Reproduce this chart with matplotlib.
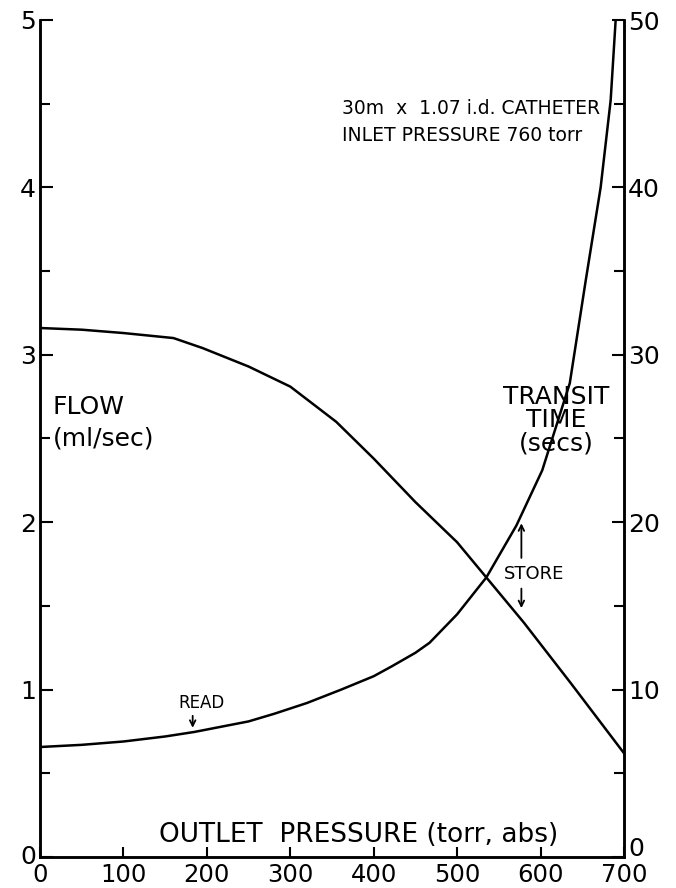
import matplotlib
matplotlib.use("Agg")
import matplotlib.pyplot as plt
from matplotlib.ticker import MultipleLocator
import matplotlib.transforms as mtransforms

plt.rcParams['font.family'] = ['DejaVu Sans']

# ---- data ----
pressure_flow = [0, 50, 100, 160, 195, 250, 300, 355, 400, 450, 500, 535, 580, 636, 700]
flow = [3.16, 3.15, 3.13, 3.10, 3.04, 2.93, 2.81, 2.60, 2.38, 2.12, 1.88, 1.67, 1.40, 1.04, 0.62]

pressure_transit = [0, 50, 100, 150, 185, 250, 281, 320, 361, 400, 422, 450, 467, 500,
                    535, 571, 602, 635, 654, 672, 684, 690]
transit = [6.57, 6.7, 6.9, 7.2, 7.47, 8.1, 8.56, 9.2, 10.0, 10.8, 11.4, 12.2, 12.8, 14.5,
           16.7, 19.8, 23.1, 28.3, 34.4, 40.0, 45.2, 50.0]

x_ticks = [0, 100, 200, 300, 400, 500, 600, 700]
flow_ticks = [0, 1, 2, 3, 4, 5]
transit_ticks = [0, 10, 20, 30, 40, 50]

fig = plt.figure(figsize=(6.76, 8.88), dpi=100)
ax = fig.add_axes([40/676, 1-857/888, 584/676, (857-20)/888])
ax2 = ax.twinx()

ax.set_xlim(0, 700)
ax.set_ylim(0, 5)
ax2.set_ylim(0, 50)

lw_curve = 1.8
ax.plot(pressure_flow, flow, color='black', lw=lw_curve, zorder=3)
ax2.plot(pressure_transit, transit, color='black', lw=lw_curve, zorder=3)

# spines
for a in (ax, ax2):
    for s in a.spines.values():
        s.set_linewidth(1.8)
    a.spines['top'].set_visible(False)

ax.set_xticks(x_ticks)
ax.set_yticks(flow_ticks)
ax.yaxis.set_minor_locator(MultipleLocator(0.5))
ax2.set_yticks(transit_ticks)
ax2.yaxis.set_minor_locator(MultipleLocator(5))

ax.tick_params(axis='x', direction='in', length=7, width=1.5, labelsize=17.5, pad=4)
ax.tick_params(axis='y', which='major', direction='in', length=9, width=1.5, labelsize=18, pad=3)
ax.tick_params(axis='y', which='minor', direction='in', length=7, width=1.5)
ax.tick_params(axis='x', which='minor', bottom=False)
ax2.tick_params(axis='y', which='major', direction='in', length=9, width=1.5, labelsize=18, pad=3)
ax2.tick_params(axis='y', which='minor', direction='in', length=7, width=1.5)

# lift the two "0" labels on the vertical axes slightly, as in the reference
fig.canvas.draw()
for lab, dy in ((ax.get_yticklabels()[0], 3), (ax2.get_yticklabels()[0], 11)):
    lift = mtransforms.ScaledTranslation(0, dy/100, fig.dpi_scale_trans)
    lab.set_transform(lab.get_transform() + lift)

# axis label inside plot
ax.text(382, 0.13, 'OUTLET  PRESSURE (torr, abs)', ha='center', va='center', fontsize=19)

# left label
ax.text(15, 2.69, 'FLOW', ha='left', va='center', fontsize=18)
ax.text(15, 2.50, '(ml/sec)', ha='left', va='center', fontsize=18)

# right label with white background (curve passes behind)
ax.text(619, 2.61, 'TRANSIT\nTIME\n(secs)', ha='center', va='center', fontsize=18,
        linespacing=0.95, zorder=5,
        bbox=dict(facecolor='white', edgecolor='none', pad=3))

# catheter note
ax.text(362, 4.47, '30m  x  1.07 i.d. CATHETER', ha='left', va='center', fontsize=13.5)
ax.text(362, 4.31, 'INLET PRESSURE 760 torr', ha='left', va='center', fontsize=13.5)

# STORE annotation
ax.text(592, 1.69, 'STORE', ha='center', va='center', fontsize=13)
ax.annotate('', xy=(577, 2.01), xytext=(577, 1.77),
            arrowprops=dict(arrowstyle='->', lw=1.3, color='black'))
ax.annotate('', xy=(577, 1.47), xytext=(577, 1.62),
            arrowprops=dict(arrowstyle='->', lw=1.3, color='black'))

# READ annotation
ax.text(193, 0.92, 'READ', ha='center', va='center', fontsize=12)
ax.annotate('', xy=(183, 0.755), xytext=(183, 0.86),
            arrowprops=dict(arrowstyle='->', lw=1.3, color='black'))

fig.savefig('out.png', dpi=100)
